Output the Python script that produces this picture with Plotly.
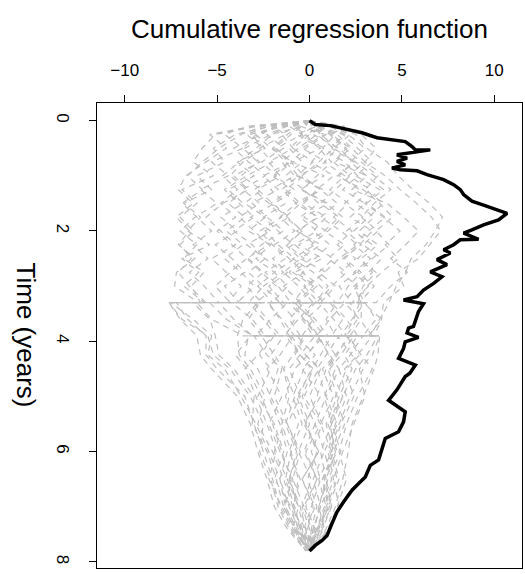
import plotly.graph_objects as go

# Observed cumulative regression function (value, time)
obs_value = [0, 0.31, 1.13, 2.2, 2.57, 2.84, 3.65, 4.37, 5.18, 5.55, 5.73, 6.54, 5.18, 4.73, 5.28, 4.73, 5.18,
             4.46, 4.91, 5.82, 6.36, 7.26, 7.8, 8.16, 8.34, 8.79, 9.42, 9.96, 10.69, 10.23, 9.42, 8.79, 8.34,
             9.15, 8.16, 7.8, 7.26, 7.62, 6.9, 7.44, 6.54, 7.17, 6.72, 6.17, 5.82, 5.09, 5.63, 6.17, 5.9, 5.73,
             5.63, 5.36, 5.28, 5.9, 5.18, 5.09, 4.82, 5.73, 5.43, 5.18, 4.73, 4.28, 5.18, 5.09, 4.82, 4.10,
             3.92, 3.74, 3.29, 3.02, 2.66, 2.30, 1.85, 1.49, 1.22, 0.95, 0.68, 0.31, 0.0]
obs_time = [0, 0.07, 0.09, 0.17, 0.21, 0.22, 0.31, 0.35, 0.38, 0.47, 0.53, 0.53, 0.59, 0.62, 0.68, 0.74, 0.80,
            0.86, 0.89, 0.91, 0.98, 1.07, 1.16, 1.25, 1.34, 1.46, 1.53, 1.59, 1.68, 1.80, 1.89, 1.98, 2.04,
            2.15, 2.16, 2.25, 2.34, 2.40, 2.52, 2.61, 2.74, 2.83, 2.95, 3.07, 3.19, 3.25, 3.28, 3.32, 3.46, 3.61,
            3.73, 3.76, 3.85, 3.93, 4.01, 4.13, 4.31, 4.43, 4.58, 4.64, 4.88, 5.07, 5.28, 5.46, 5.64, 5.76,
            5.97, 6.15, 6.25, 6.46, 6.58, 6.70, 6.91, 7.09, 7.30, 7.52, 7.61, 7.70, 7.80]

# Simulated processes under the null (grey dashed), sampled at these times
sim_time = [0, 0.1, 0.25, 0.5, 0.75, 1.0, 1.25, 1.5, 1.75, 2.0, 2.25, 2.5, 2.75, 3.0, 3.3, 3.3, 3.6, 3.9, 3.9,
            4.25, 4.5, 5.0, 5.5, 6.0, 6.5, 7.0, 7.4, 7.8]
sim_paths = [
    [0, -2.1, -4.0, -5.2, -4.6, -6.1, -5.3, -6.8, -5.9, -6.6, -5.4, -6.9, -6.0, -6.8, -5.7, -7.5, -6.3, -5.3, -5.3, -5.5, -4.6, -3.7, -2.9, -2.2, -1.6, -1.3, -0.7, -0.1],
    [0, 1.2, 2.5, 3.1, 4.2, 4.8, 5.6, 6.5, 7.2, 6.8, 6.3, 5.5, 5.2, 4.7, 4.3, 4.3, 3.8, 3.3, 3.8, 3.7, 3.5, 2.9, 2.3, 2.1, 1.8, 1.4, 0.9, 0.1],
    [0, -0.8, -1.5, -0.9, -2.2, -1.6, -2.8, -2.0, -1.1, -2.4, -1.7, -0.8, -1.9, -1.2, -2.0, -0.3, -1.1, -0.5, 1.2, 0.6, 0.2, -0.7, -0.2, 0.5, -0.4, 0.3, -0.2, 0.0],
    [0, 0.6, 1.4, 0.7, 1.9, 2.6, 1.8, 3.0, 2.2, 3.4, 2.7, 1.9, 2.8, 2.1, 1.5, 2.7, 2.4, 1.9, 0.4, 1.1, 1.6, 0.9, 1.5, 0.8, 1.2, 0.6, 0.2, 0.0],
    [0, -1.6, -3.2, -2.4, -3.9, -3.0, -4.4, -3.6, -4.8, -3.9, -5.1, -4.2, -3.5, -4.6, -3.8, -5.4, -4.5, -3.1, -1.9, -2.7, -2.1, -2.8, -1.9, -1.4, -1.9, -1.0, -0.6, -0.1],
    [0, 0.3, -0.5, 0.8, 0.1, 1.3, 0.4, -0.3, 0.9, 0.2, 1.1, 0.3, -0.4, 0.6, 1.4, -0.8, 0.1, 0.8, 2.4, 1.7, 1.1, 1.8, 1.0, 1.5, 0.7, 1.1, 0.4, 0.0],
    [0, -2.8, -5.1, -5.8, -6.3, -5.2, -6.9, -6.1, -7.0, -6.3, -7.0, -6.4, -7.1, -6.5, -5.6, -7.2, -6.6, -5.6, -5.6, -5.6, -5.0, -3.5, -3.0, -2.5, -2.0, -1.6, -1.0, -0.2],
    [0, 1.6, 2.8, 3.6, 3.0, 4.1, 4.9, 5.8, 6.6, 7.1, 6.5, 5.9, 4.8, 5.1, 4.0, 4.0, 3.9, 3.5, 2.1, 2.8, 3.4, 2.6, 2.0, 1.6, 2.0, 1.5, 1.0, 0.1],
    [0, -1.1, -0.4, -1.8, -1.0, -2.5, -1.7, -3.1, -2.3, -1.4, -2.6, -3.3, -2.5, -3.4, -2.6, -4.2, -3.1, -2.4, -0.9, -1.6, -2.3, -1.5, -2.2, -1.6, -0.9, -1.4, -0.8, -0.1],
    [0, 0.9, 0.2, 1.6, 2.4, 1.5, 2.9, 3.8, 4.5, 3.6, 4.3, 3.4, 2.6, 3.5, 2.7, 1.2, 2.0, 2.6, 3.7, 3.1, 2.5, 1.8, 1.2, 1.7, 1.0, 0.5, 0.8, 0.0],
    [0, -0.3, -2.1, -3.5, -2.7, -4.1, -3.3, -4.7, -5.6, -4.8, -4.0, -5.3, -4.5, -3.7, -4.4, -2.8, -3.6, -3.9, -3.9, -3.8, -3.2, -2.4, -2.8, -2.0, -1.4, -0.9, -0.5, -0.1],
    [0, 0.1, 0.9, -0.2, -1.0, -0.3, -1.3, -0.5, 0.4, -0.6, 0.3, -0.9, 0.2, 1.0, 0.3, 1.9, 1.1, 0.4, -1.3, -0.5, 0.2, -0.4, 0.3, -0.3, 0.4, -0.2, 0.3, 0.0],
    [0, -3.3, -4.6, -3.6, -5.3, -4.4, -5.9, -5.0, -6.2, -7.0, -6.1, -6.8, -5.7, -6.4, -5.9, -7.6, -6.9, -5.5, -5.5, -5.2, -4.3, -3.2, -2.5, -2.7, -2.1, -1.7, -1.1, -0.2],
    [0, 0.5, 1.8, 2.6, 3.4, 2.5, 3.8, 3.0, 4.0, 4.9, 4.1, 4.8, 3.9, 3.1, 2.6, 3.0, 3.6, 2.9, 1.5, 2.3, 2.9, 2.2, 1.6, 1.1, 1.5, 0.9, 0.5, 0.0],
    [0, -1.9, -2.6, -4.1, -3.3, -2.4, -3.6, -2.7, -3.8, -3.0, -2.2, -3.4, -2.6, -1.8, -2.9, -1.2, -2.1, -2.9, -3.3, -3.5, -2.8, -2.1, -1.4, -1.9, -1.2, -0.6, -0.9, -0.1],
    [0, 0.7, -0.2, 0.5, 1.2, 0.4, -0.4, 0.9, 1.8, 1.0, 0.1, 1.3, 0.5, 1.4, 0.6, -1.1, -0.3, 0.5, -1.0, -0.2, 0.6, 0.0, 0.7, 0.1, 0.6, 0.1, -0.3, 0.0],
    [0, -2.5, -3.7, -4.9, -5.8, -6.6, -5.8, -6.9, -6.1, -5.3, -6.3, -5.5, -6.5, -5.7, -4.9, -6.3, -5.4, -5.1, -5.1, -4.9, -4.1, -3.0, -3.1, -2.3, -1.8, -1.4, -0.8, -0.1],
    [0, 1.9, 1.2, 2.2, 1.4, 3.1, 2.3, 4.2, 5.1, 5.9, 5.2, 4.4, 5.3, 4.4, 3.6, 2.9, 3.9, 3.2, 3.8, 3.4, 2.7, 3.0, 2.4, 1.8, 1.3, 1.6, 1.1, 0.1],
    [0, -0.6, -1.2, -2.0, -1.3, -0.6, -1.5, -0.7, -1.6, -0.8, -1.9, -1.1, -0.3, -1.4, -0.5, -2.3, -1.5, -0.8, 0.6, -0.1, -0.8, -1.3, -0.6, -1.1, -0.5, -0.9, -0.4, -0.1],
    [0, 0.2, 0.6, 1.5, 0.8, 1.9, 1.1, 2.1, 1.3, 2.3, 1.5, 2.5, 1.7, 2.6, 1.8, 0.5, 1.3, 2.0, 0.7, 1.4, 0.7, 1.3, 0.6, 1.2, 0.5, 0.9, 0.4, 0.0],
    [0, -1.3, -2.0, -2.9, -3.8, -4.7, -3.9, -4.8, -4.0, -5.0, -4.2, -3.4, -4.3, -5.1, -4.3, -6.1, -5.3, -3.6, -3.2, -4.0, -3.4, -2.6, -2.0, -1.5, -1.0, -1.3, -0.7, -0.1],
    [0, 1.0, 2.2, 1.3, 2.5, 3.5, 4.4, 3.5, 2.8, 3.7, 2.9, 3.9, 3.2, 2.4, 2.8, 1.9, 2.7, 3.4, 2.0, 2.7, 2.0, 1.4, 1.9, 1.3, 0.8, 1.2, 0.7, 0.1],
    [0, -0.2, 0.4, -0.6, -1.5, -0.8, -2.1, -1.3, -2.5, -1.7, -0.9, -2.0, -1.2, -2.2, -1.4, 0.2, -0.6, -1.4, 0.3, -0.5, -1.1, -0.5, -1.2, -0.6, -1.1, -0.5, -0.2, 0.0],
    [0, -2.0, -1.3, -2.7, -2.0, -3.4, -4.6, -3.8, -3.0, -4.1, -3.1, -2.4, -3.3, -2.5, -3.3, -4.9, -4.1, -3.1, -2.0, -2.8, -3.5, -2.9, -2.3, -1.8, -2.2, -1.5, -0.9, -0.1],
    [0, 0.4, 1.1, 1.9, 2.8, 3.7, 3.0, 4.0, 3.2, 2.4, 3.4, 2.6, 3.6, 2.9, 2.6, 2.8, 2.8, 2.2, 3.4, 2.6, 1.9, 2.4, 1.7, 1.2, 1.6, 1.0, 0.6, 0.0],
    [0, -1.4, -2.9, -2.1, -0.9, -1.9, -0.8, -1.9, -3.2, -2.1, -3.4, -2.4, -1.4, -2.5, -1.6, -3.0, -2.3, -1.6, -3.0, -2.3, -1.5, -1.9, -1.2, -0.5, -0.9, -0.3, -0.5, 0.0],
    [0, 0.8, 0.0, -0.9, 0.2, -0.7, 0.6, 1.5, 0.6, 1.7, 2.6, 1.6, 0.8, -0.1, 0.8, -0.6, 0.3, 1.0, 2.2, 1.4, 0.9, 0.4, -0.2, 0.4, -0.1, 0.4, 0.1, 0.0],
    [0, -3.0, -5.4, -4.5, -5.6, -6.7, -7.1, -6.3, -7.2, -6.5, -7.1, -6.2, -7.2, -7.3, -6.0, -7.6, -7.0, -6.1, -6.1, -5.9, -5.3, -3.9, -3.2, -2.8, -2.3, -1.9, -1.2, -0.2],
    [0, -0.5, 0.8, -0.4, 0.9, -0.6, 0.7, -0.8, 0.5, -0.7, 0.6, -0.5, 0.9, -0.3, 0.5, -0.9, 0.2, -0.4, 0.8, -0.2, 0.5, -0.3, 0.6, -0.2, 0.4, -0.3, 0.1, 0.0],
    [0, 0.4, -0.7, 0.6, -0.9, 0.8, -0.5, 1.0, -0.3, 0.9, -0.6, 0.7, -0.8, 0.4, -0.6, 0.8, -0.2, 0.5, -0.7, 0.3, -0.4, 0.6, -0.3, 0.5, -0.4, 0.2, -0.1, 0.0],
    [0, -1.2, -2.3, -1.4, -2.6, -1.8, -3.0, -2.2, -1.5, -2.7, -2.0, -1.3, -2.4, -1.7, -1.0, -2.2, -1.6, -1.1, -0.3, -0.9, -1.4, -0.8, -1.3, -0.7, -1.1, -0.6, -0.3, 0.0],
    [0, 1.1, 1.9, 1.2, 2.4, 1.6, 2.7, 1.9, 2.9, 2.0, 2.8, 1.8, 2.5, 1.6, 2.3, 1.1, 1.8, 1.2, 2.1, 1.5, 1.0, 1.5, 0.9, 1.3, 0.7, 1.0, 0.5, 0.0],
    [0, -0.9, -0.2, -1.1, -0.4, -1.3, -0.3, 0.5, -0.5, 0.4, -0.8, 0.1, -0.9, 0.2, -0.7, -1.6, -0.8, -1.3, -0.2, -0.8, -0.3, -0.9, -0.4, -1.0, -0.6, -0.9, -0.4, 0.0],
    [0, 0.6, 1.2, 2.0, 1.3, 2.2, 1.4, 0.6, 1.6, 0.8, 1.9, 1.0, 2.0, 1.2, 0.4, 1.5, 0.9, 1.4, 0.5, 1.0, 1.4, 0.8, 1.2, 0.6, 0.9, 0.5, 0.3, 0.0],
    [0, -1.7, -2.9, -3.6, -2.8, -3.7, -2.6, -3.5, -2.4, -3.3, -2.1, -2.9, -1.9, -2.8, -2.0, -3.3, -2.5, -1.8, -2.6, -1.9, -1.4, -1.1, -1.5, -1.0, -1.3, -0.8, -0.5, 0.0],
    [0, 0.2, 1.5, 2.3, 3.0, 2.1, 3.3, 2.5, 3.5, 2.7, 3.7, 2.8, 3.4, 2.5, 3.0, 2.2, 2.6, 2.0, 2.9, 2.2, 1.6, 2.0, 1.4, 1.0, 1.3, 0.8, 0.4, 0.0],
    [0, -0.4, -1.0, -1.9, -1.1, -2.0, -1.0, -2.1, -1.2, -0.4, -1.3, -0.5, -1.4, -0.6, 0.2, -0.9, -0.3, 0.4, 1.6, 0.9, 0.4, 0.9, 0.3, 0.8, 0.2, 0.6, 0.2, 0.0],
    [0, 0.9, 0.4, 1.3, 0.5, -0.4, 0.6, -0.5, -1.3, -0.4, -1.2, -0.3, -1.1, -0.2, -0.9, 0.3, -0.4, 0.2, -1.1, -0.5, 0.1, -0.6, 0.0, -0.6, 0.1, -0.4, 0.0, 0.0],
    [0, -2.2, -3.4, -2.5, -3.6, -4.3, -3.4, -4.4, -3.5, -4.5, -3.6, -4.6, -3.7, -3.0, -3.9, -2.7, -3.3, -2.6, -1.4, -2.1, -1.7, -2.2, -1.6, -1.2, -1.6, -1.1, -0.6, 0.0],
    [0, 1.4, 2.1, 3.0, 2.2, 3.1, 4.0, 3.1, 4.1, 3.2, 2.4, 3.3, 2.4, 3.2, 2.3, 3.0, 2.3, 1.7, 2.6, 1.9, 2.3, 1.6, 1.1, 1.4, 0.9, 1.2, 0.6, 0.1],
]

x_ticks = [-10, -5, 0, 5, 10]
x_tick_text = ["\u221210", "\u22125", "0", "5", "10"]
y_ticks = [0, 2, 4, 6, 8]
y_tick_text = ["0", "2", "4", "6", "8"]

fig = go.Figure()
for path in sim_paths:
    fig.add_trace(go.Scatter(x=path, y=sim_time, mode="lines",
                             line=dict(color="#BEBEBE", width=1.2, dash="6px,5px"),
                             hoverinfo="skip", showlegend=False))
fig.add_trace(go.Scatter(x=obs_value, y=obs_time, mode="lines",
                         line=dict(color="black", width=3.5), showlegend=False))

font_family = "Liberation Sans, Arial, sans-serif"
fig.update_layout(
    width=525, height=574,
    margin=dict(l=97, r=3, t=103, b=6),
    paper_bgcolor="white", plot_bgcolor="white",
    font=dict(family=font_family, color="black", size=17),
    xaxis=dict(range=[-11.5, 11.5], side="top", tickvals=x_ticks, ticktext=x_tick_text,
               ticks="outside", ticklen=7, tickwidth=1, tickcolor="black",
               showline=True, linecolor="black", linewidth=1, mirror=True,
               showgrid=False, zeroline=False, ticklabelstandoff=12,
               tickfont=dict(size=17)),
    yaxis=dict(range=[8.11, -0.32], tickvals=y_ticks, ticktext=y_tick_text,
               ticks="outside", ticklen=7, tickwidth=1, tickcolor="black",
               showline=True, linecolor="black", linewidth=1, mirror=True,
               showgrid=False, zeroline=False, tickangle=90, ticklabelstandoff=12,
               tickfont=dict(size=17)),
    annotations=[
        dict(text="Cumulative regression function", xref="paper", yref="paper",
             x=0.5, y=1.16, xanchor="center", yanchor="middle", showarrow=False,
             font=dict(size=26, family=font_family)),
        dict(text="Time (years)", xref="paper", yref="paper",
             x=-0.166, y=0.501, xanchor="center", yanchor="middle", showarrow=False,
             textangle=90, font=dict(size=26, family=font_family)),
    ],
)

fig.write_html("out.html")
